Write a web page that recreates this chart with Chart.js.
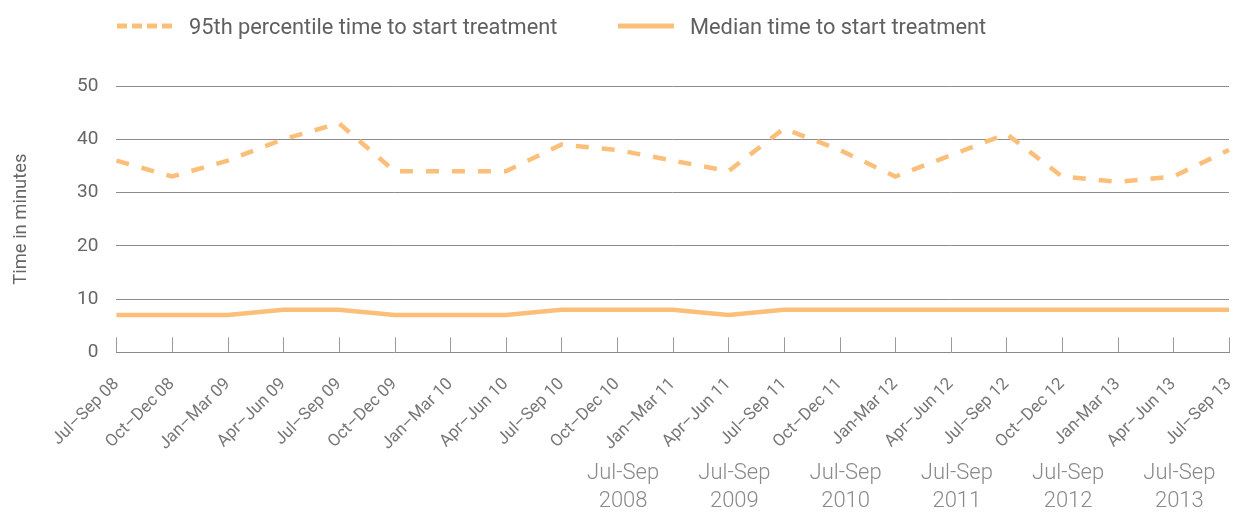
<!DOCTYPE html>
<html>
<head>
<meta charset="utf-8">
<script src="https://cdn.jsdelivr.net/npm/chart.js@4.4.1/dist/chart.umd.min.js"></script>
<style>
  html, body { margin: 0; padding: 0; background: #fff; }
  #wrap { position: relative; width: 1234px; height: 514px; font-family: Roboto, "Liberation Sans", sans-serif; }
  #chart { position: absolute; left: 0; top: 0; }
  .leg { position: absolute; top: 11px; height: 30px; font-size: 21.8px; color: #606060; display: flex; align-items: center; }
  .leg svg { margin-right: 16px; }
</style>
</head>
<body>
<div id="wrap">
  <canvas id="chart" width="1234" height="514"></canvas>
  <div class="leg" style="left:117px">
    <svg width="56" height="6"><line x1="0" y1="3" x2="56" y2="3" stroke="#fbbf7a" stroke-width="5" stroke-dasharray="10,5"/></svg>
    <span>95th percentile time to start treatment</span>
  </div>
  <div class="leg" style="left:618px">
    <svg width="56" height="6"><line x1="0" y1="3" x2="56" y2="3" stroke="#fbbf7a" stroke-width="5"/></svg>
    <span>Median time to start treatment</span>
  </div>
</div>
<script>
let quarters = ["Jul–Sep 08", "Oct–Dec 08", "Jan–Mar 09", "Apr–Jun 09", "Jul–Sep 09", "Oct–Dec 09",
  "Jan–Mar 10", "Apr–Jun 10", "Jul–Sep 10", "Oct–Dec 10", "Jan–Mar 11", "Apr–Jun 11", "Jul–Sep 11",
  "Oct–Dec 11", "Jan-Mar 12", "Apr–Jun 12", "Jul–Sep 12", "Oct–Dec 12", "Jan-Mar 13", "Apr–Jun 13", "Jul–Sep 13"];

let p95 = [36, 33, 36, 40, 43, 34, 34, 34, 39, 38, 36, 34, 42, 38, 33, 37, 41, 33, 32, 33, 38];
let median = [7, 7, 7, 8, 8, 7, 7, 7, 8, 8, 8, 7, 8, 8, 8, 8, 8, 8, 8, 8, 8];

let yTicks = [0, 10, 20, 30, 40, 50];

// extra year labels under the axis, anchored on category index
let yearLabels = ["2008", "2009", "2010", "2011", "2012", "2013"];
let yearAnchors = [9, 11, 13, 15, 17, 19];

let orange = "#fbbf7a";
let fontFam = "Roboto, 'Liberation Sans', sans-serif";

// short tick marks pointing up from the x axis + bottom year labels
const extras = {
  id: "extras",
  afterDraw(chart) {
    const ctx = chart.ctx;
    const x = chart.scales.x;
    const bottom = chart.chartArea.bottom;
    ctx.save();
    ctx.strokeStyle = "#9a9a9a";
    ctx.lineWidth = 1;
    for (let i = 0; i < quarters.length; i++) {
      let px = Math.round(x.getPixelForValue(i)) + 0.5;
      ctx.beginPath();
      ctx.moveTo(px, bottom - 15);
      ctx.lineTo(px, bottom);
      ctx.stroke();
    }
    ctx.fillStyle = "#8a8a8a";
    ctx.font = "300 22px " + fontFam;
    ctx.textAlign = "center";
    ctx.textBaseline = "alphabetic";
    for (let i = 0; i < yearLabels.length; i++) {
      let px = x.getPixelForValue(yearAnchors[i]) + 6;
      ctx.fillText("Jul-Sep", px, chart.height - 35);
      ctx.fillText(yearLabels[i], px, chart.height - 7);
    }
    ctx.restore();
  }
};

new Chart(document.getElementById("chart"), {
  type: "line",
  data: {
    labels: quarters,
    datasets: [
      { label: "95th percentile time to start treatment", data: p95, borderColor: orange, borderWidth: 4.5,
        borderDash: [13, 13], pointRadius: 0, tension: 0, fill: false },
      { label: "Median time to start treatment", data: median, borderColor: orange, borderWidth: 4.5,
        pointRadius: 0, tension: 0, fill: false }
    ]
  },
  options: {
    responsive: false,
    animation: false,
    layout: { padding: { top: 86, left: 0, right: 5, bottom: 38 } },
    plugins: { legend: { display: false }, tooltip: { enabled: false } },
    scales: {
      x: {
        offset: false,
        afterFit(axis) { axis.paddingRight = 0; },
        grid: { display: false, drawTicks: false },
        border: { display: true, color: "#8a8a8a", width: 1 },
        ticks: { minRotation: 45, maxRotation: 45, autoSkip: false, padding: 22,
          color: "#777", font: { family: fontFam, size: 17 } }
      },
      y: {
        min: 0, max: 50,
        afterBuildTicks(axis) { axis.ticks = yTicks.map(v => ({ value: v })); },
        grid: { color: ctx => ctx.tick.value === 0 ? "rgba(0,0,0,0)" : "#8c8c8c", drawTicks: false, lineWidth: 1 },
        border: { display: false },
        ticks: { padding: 18, color: "#666", font: { family: fontFam, size: 19 } },
        title: { display: true, text: "Time in minutes", color: "#666",
          font: { family: fontFam, size: 18.4 }, padding: { top: 10, bottom: 27 } }
      }
    }
  },
  plugins: [extras]
});
</script>
</body>
</html>
